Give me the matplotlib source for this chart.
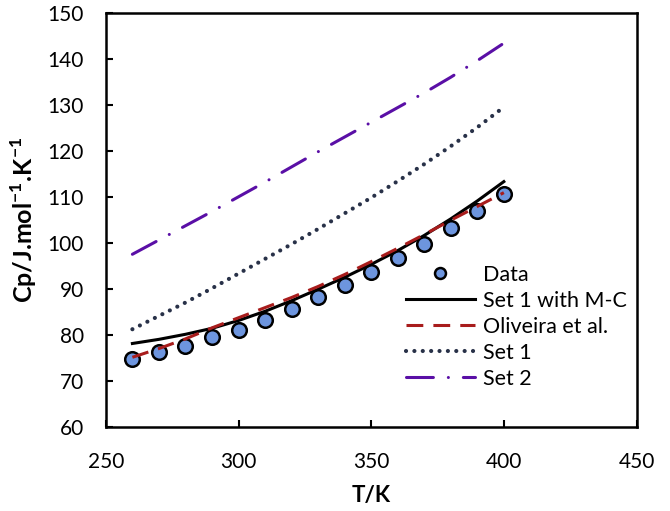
import matplotlib
matplotlib.use("Agg")
import matplotlib.pyplot as plt

plt.rcParams["font.family"] = ["Lato", "DejaVu Sans"]
plt.rcParams["mathtext.fontset"] = "custom"
plt.rcParams["mathtext.rm"] = "Lato"
plt.rcParams["mathtext.bf"] = "Lato:bold"

# Temperature grid, K
T = [260, 270, 280, 290, 300, 310, 320, 330, 340, 350, 360, 370, 380, 390, 400]

# Cp, J/mol/K
DATA = [74.8, 76.3, 77.7, 79.6, 81.2, 83.3, 85.7, 88.3, 90.9, 93.7, 96.7,
        99.9, 103.4, 107.0, 110.6]
SET1_MC = [78.2, 79.1, 80.2, 81.5, 83.2, 85.2, 87.5, 90.0, 92.6, 95.4, 98.4,
           101.7, 105.3, 109.2, 113.4]
OLIVEIRA = [75.2, 77.1, 79.2, 81.6, 83.8, 86.0, 88.2, 90.6, 93.2, 96.0, 98.9,
            101.9, 105.0, 108.0, 111.0]
SET1 = [81.3, 84.2, 87.1, 90.2, 93.4, 96.6, 99.8, 103.1, 106.5, 109.9, 113.5,
        117.2, 121.1, 125.2, 129.6]
SET2 = [97.6, 100.7, 103.8, 106.9, 110.1, 113.3, 116.6, 119.9, 123.1, 126.3,
        129.5, 132.7, 136.1, 139.7, 143.5]

fig = plt.figure(figsize=(6.7, 5.11), dpi=100)
ax = fig.add_axes([0.158, 0.164, 0.792, 0.810])

ax.plot(T, DATA, ls="none", marker="o", ms=10.5, mfc="#6D95DE", mec="black",
        mew=1.8, label="Data", zorder=2)
ax.plot(T, SET1_MC, color="black", lw=2.2, label="Set 1 with M-C", zorder=3)
ax.plot(T, OLIVEIRA, color="#A81C1C", lw=2.2, ls=(0, (5.5, 3.3)),
        label="Oliveira et al.", zorder=4)
ax.plot(T, SET1, color="#283148", lw=3.0, ls=(0, (0.01, 2.0)),
        dash_capstyle="round", label="Set 1", zorder=3)
ax.plot(T, SET2, color="#5A0FA6", lw=2.2, ls=(0, (8.8, 4.9, 0.01, 4.9)),
        dash_capstyle="round", label="Set 2", zorder=3)

ax.set_xlim(250, 450)
ax.set_ylim(60, 150)
ax.set_xticks([250, 300, 350, 400, 450])
ax.set_yticks(range(60, 151, 10))
ax.tick_params(direction="in", length=5, width=1.5, labelsize=15,
               top=False, right=False)
ax.tick_params(axis="x", pad=18)
ax.tick_params(axis="y", pad=16)
for s in ax.spines.values():
    s.set_linewidth(1.8)

ax.set_xlabel("T/K", fontsize=16, fontweight="bold", labelpad=9)
ax.set_ylabel(r"Cp/J.mol$^{\mathbf{-1}}$.K$^{\mathbf{-1}}$", fontsize=18,
              fontweight="bold", labelpad=6)

ax.legend(loc="center left", bbox_to_anchor=(0.606, 0.3605),
          bbox_transform=fig.transFigure, frameon=False, fontsize=15.5,
          handlelength=3.2, handletextpad=0.36, labelspacing=0.28,
          borderpad=0, borderaxespad=0, markerscale=0.75)

fig.savefig("out.png", dpi=100)
